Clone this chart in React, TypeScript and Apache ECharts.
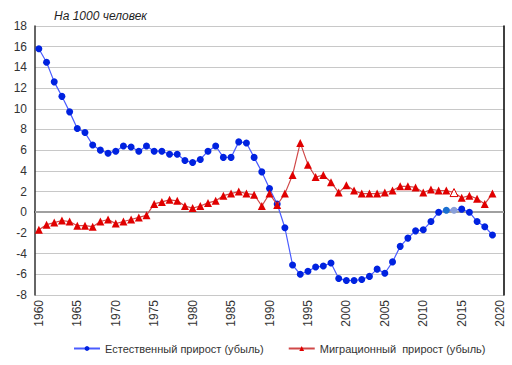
import React, { useEffect, useRef } from "react";
import * as echarts from "echarts";

const years: string[] = [];
for (let y = 1960; y <= 2020; y++) years.push(String(y));

const naturalGrowth: (number | null)[] = [
  15.8, 14.5, 12.6, 11.2, 9.7, 8.1, 7.7, 6.5, 6.0, 5.7,
  5.9, 6.4, 6.3, 5.9, 6.4, 5.9, 5.9, 5.6, 5.6, 5.0,
  4.8, 5.1, 5.9, 6.4, 5.3, 5.3, 6.8, 6.7, 5.3, 3.9,
  2.3, 0.8, -1.5, -5.1, -6.0, -5.7, -5.3, -5.2, -4.9, -6.4,
  -6.6, -6.6, -6.5, -6.2, -5.5, -5.9, -4.8, -3.3, -2.5, -1.8,
  -1.7, -0.9, 0.0, 0.2, 0.2, 0.3, 0.0, -0.9, -1.4, -2.2,
  null,
];

const migrationGrowth: (number | null)[] = [
  -1.7, -1.2, -1.0, -0.8, -0.9, -1.3, -1.3, -1.4, -0.9, -0.7,
  -1.1, -0.9, -0.7, -0.5, -0.3, 0.8, 1.0, 1.2, 1.1, 0.6,
  0.4, 0.6, 0.9, 1.1, 1.6, 1.8, 2.0, 1.8, 1.7, 0.6,
  1.8, 0.7, 1.8, 3.6, 6.7, 4.6, 3.4, 3.6, 2.9, 1.9,
  2.6, 2.1, 1.8, 1.8, 1.8, 1.9, 2.1, 2.5, 2.5, 2.4,
  1.9, 2.2, 2.1, 2.1, 1.9, 1.4, 1.6, 1.3, 0.8, 1.8,
  null,
];

const seriesNames = ["Естественный прирост (убыль)", "Миграционный  прирост (убыль)"];
const unitTitle = "На 1000 человек";

export default function App() {
  const ref = useRef<HTMLDivElement>(null);
  useEffect(() => {
    if (!ref.current) return;
    const chart = echarts.init(ref.current, undefined, { renderer: "svg" });
    const font = "Arial, 'Liberation Sans', sans-serif";
    const blueData = naturalGrowth.map((v, i) => {
      const yr = years[i];
      if (yr === "2013") return { value: v, itemStyle: { color: "#1a6fd0" } };
      if (yr === "2014") return { value: v, itemStyle: { color: "#8aa0d8" } };
      return v;
    });
    const redData = migrationGrowth.map((v, i) => {
      if (years[i] === "2014")
        return { value: v, itemStyle: { color: "#ffffff", borderColor: "#e00000", borderWidth: 1 } };
      return v;
    });
    chart.setOption({
      animation: false,
      backgroundColor: "#ffffff",
      textStyle: { fontFamily: font },
      title: {
        text: unitTitle,
        left: 49,
        top: 5,
        textStyle: { fontSize: 12, fontStyle: "italic", fontWeight: "normal", color: "#1f1f1f", fontFamily: font },
      },
      grid: { left: 35, right: 8, top: 26, bottom: 70, containLabel: false },
      legend: {
        bottom: 6,
        left: 73,
        padding: [5, 0, 5, 0],
        itemWidth: 26,
        itemHeight: 6,
        itemGap: 24,
        textStyle: { fontSize: 11, color: "#333", fontFamily: font },
        data: seriesNames,
      },
      xAxis: {
        type: "category",
        data: years,
        boundaryGap: true,
        axisLine: { show: true, lineStyle: { color: "#000", width: 1.5 } },
        axisTick: { show: false },
        axisLabel: {
          interval: 4,
          rotate: 90,
          fontSize: 12,
          color: "#333",
          margin: 5,
          fontFamily: font,
        },
        splitLine: { show: false },
      },
      yAxis: [
        {
          type: "value",
          min: -8,
          max: 18,
          interval: 2,
          axisLine: { show: true, lineStyle: { color: "#333", width: 1.5 } },
          axisTick: { show: false },
          axisLabel: { fontSize: 12, color: "#333", margin: 8, fontFamily: font },
          splitLine: { show: true, lineStyle: { color: "#c8c8c8", width: 1.2 } },
        },
        {
          type: "value",
          min: -8,
          max: 18,
          interval: 2,
          position: "right",
          axisLine: { show: true, lineStyle: { color: "#000", width: 1.5 } },
          axisTick: { show: false },
          axisLabel: { show: false },
          splitLine: { show: false },
        },
      ],
      series: [
        {
          name: seriesNames[0],
          type: "line",
          data: blueData,
          symbol: "circle",
          symbolSize: 7,
          showAllSymbol: true,
          itemStyle: { color: "#0022e0" },
          lineStyle: { color: "#4a5cff", width: 1.2 },
          markLine: {
            silent: true,
            symbol: "none",
            label: { show: false },
            lineStyle: { color: "#a0a0a0", width: 2, type: "solid" },
            data: [{ yAxis: 0 }],
            z: 1,
          },
          z: 3,
        },
        {
          name: seriesNames[1],
          type: "line",
          data: redData,
          symbol: "triangle",
          symbolSize: 8,
          showAllSymbol: true,
          itemStyle: { color: "#e00000" },
          lineStyle: { color: "#d04848", width: 1.2 },
          z: 4,
        },
      ],
    });
    return () => chart.dispose();
  }, []);
  return <div ref={ref} style={{ width: 512, height: 365, position: "absolute", left: 0, top: 0 }} />;
}
